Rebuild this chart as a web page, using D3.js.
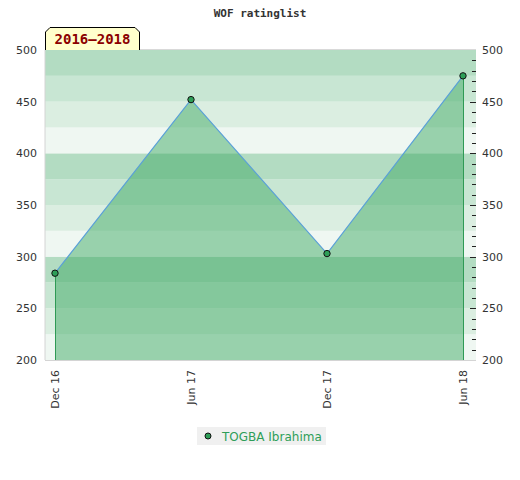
<!DOCTYPE html>
<html>
<head>
<meta charset="utf-8">
<script src="https://cdn.jsdelivr.net/npm/d3@7"></script>
<style>
body{margin:0;background:#fff}
</style>
</head>
<body>
<svg id="chart"></svg>
<script>
// chart data
var months = ["Dec 16", "Jun 17", "Dec 17", "Jun 18"]
var ratings = [284, 452, 303, 475]
var playerName = "TOGBA Ibrahima"
var periodLabel = "2016\u20132018"
var yTicks = [200, 250, 300, 350, 400, 450, 500]

var screen = {width:520, height:480}
var plot = {left:45, right:476, top:50, bottom:360}

var svg = d3.select("#chart")
    .attr("width", screen.width)
    .attr("height", screen.height)
    .style("font-family", "'DejaVu Sans', sans-serif")

var xScale = d3.scalePoint()
    .domain(months)
    .range([plot.left + 10, plot.right - 13])

var yScale = d3.scaleLinear()
    .domain([200, 500])
    .range([plot.bottom, plot.top])

// striped background, 25 point bands, lightest at bottom of each hundred
var bandColors = ["#eff7f2", "#dbeee1", "#c8e6d3", "#b3dcc2"]
var bands = d3.range(200, 500, 25)
svg.append("g")
    .selectAll("rect")
    .data(bands)
    .enter()
    .append("rect")
    .attr("x", plot.left)
    .attr("width", plot.right - plot.left)
    .attr("y", function(d){return yScale(d + 25)})
    .attr("height", function(d){return yScale(d) - yScale(d + 25)})
    .attr("fill", function(d){return bandColors[((d - 200) / 25) % 4]})

// plot frame
svg.append("line")
    .attr("x1", plot.left).attr("x2", plot.left)
    .attr("y1", plot.top).attr("y2", plot.bottom)
    .attr("stroke", "#d4d4d4")
svg.append("line")
    .attr("x1", plot.left).attr("x2", plot.right)
    .attr("y1", plot.bottom + 0.5).attr("y2", plot.bottom + 0.5)
    .attr("stroke", "#d4d4d4")
svg.append("line")
    .attr("x1", plot.left).attr("x2", plot.right)
    .attr("y1", plot.top - 0.5).attr("y2", plot.top - 0.5)
    .attr("stroke", "#d9d9d9")

var points = months.map(function(m, i){ return {x:m, y:ratings[i]} })

// area under the line
var area = d3.area()
    .x(function(d){return xScale(d.x)})
    .y0(plot.bottom)
    .y1(function(d){return yScale(d.y)})
svg.append("path")
    .datum(points)
    .attr("d", area)
    .attr("fill", "rgb(55,166,93)")
    .attr("fill-opacity", 0.47)

// drop lines at the ends
svg.selectAll(".drop")
    .data([points[0], points[points.length - 1]])
    .enter()
    .append("line")
    .attr("class", "drop")
    .attr("x1", function(d){return Math.round(xScale(d.x)) + 0.5})
    .attr("x2", function(d){return Math.round(xScale(d.x)) + 0.5})
    .attr("y1", function(d){return yScale(d.y)})
    .attr("y2", plot.bottom)
    .attr("stroke", "#2f9a55")

var line = d3.line()
    .x(function(d){return xScale(d.x)})
    .y(function(d){return yScale(d.y)})
svg.append("path")
    .datum(points)
    .attr("d", line)
    .attr("fill", "none")
    .attr("stroke", "#5aa0d8")
    .attr("stroke-width", 1.2)

svg.selectAll(".pt")
    .data(points)
    .enter()
    .append("circle")
    .attr("class", "pt")
    .attr("cx", function(d){return xScale(d.x)})
    .attr("cy", function(d){return yScale(d.y)})
    .attr("r", 3.2)
    .attr("fill", "#2e9e58")
    .attr("stroke", "#111")
    .attr("stroke-width", 1)

// left axis labels
svg.append("g")
    .selectAll("text")
    .data(yTicks)
    .enter()
    .append("text")
    .attr("x", plot.left - 8)
    .attr("y", function(d){return yScale(d) + 4})
    .attr("text-anchor", "end")
    .attr("font-size", 11)
    .attr("fill", "#333")
    .text(function(d){return d})

// right axis with minor ticks
var rightAxis = d3.axisRight(yScale)
    .tickValues(yTicks)
    .tickSize(0)
    .tickPadding(6)
svg.append("g")
    .attr("transform", "translate(" + plot.right + ",0)")
    .call(rightAxis)
    .call(function(g){
        g.select(".domain").remove()
        g.selectAll("text").attr("font-size", 11).attr("fill", "#333")
            .attr("font-family", "'DejaVu Sans', sans-serif")
    })
svg.append("g")
    .selectAll("line")
    .data(d3.range(210, 500, 10))
    .enter()
    .append("line")
    .attr("x1", function(d){return d % 50 == 0 ? plot.right - 6 : plot.right - 4})
    .attr("x2", plot.right)
    .attr("y1", function(d){return Math.round(yScale(d)) + 0.5})
    .attr("y2", function(d){return Math.round(yScale(d)) + 0.5})
    .attr("stroke", "#222")

// x labels, rotated
svg.append("g")
    .selectAll("text")
    .data(months)
    .enter()
    .append("text")
    .attr("transform", function(d){return "translate(" + (xScale(d) + 4) + "," + (plot.bottom + 10) + ") rotate(-90)"})
    .attr("text-anchor", "end")
    .attr("font-size", 11)
    .attr("fill", "#333")
    .text(function(d){return d})

// title
svg.append("text")
    .attr("x", 260)
    .attr("y", 17)
    .attr("text-anchor", "middle")
    .attr("font-family", "'DejaVu Sans Mono', monospace")
    .attr("font-weight", "bold")
    .attr("font-size", 11)
    .attr("fill", "#333")
    .text("WOF ratinglist")

// period tag
var tag = {x:45, y:27, w:95, h:23, c:5}
svg.append("path")
    .attr("d", "M" + (tag.x + 0.5) + "," + (tag.y + tag.h) +
        "V" + (tag.y + tag.c) + "L" + (tag.x + tag.c) + "," + (tag.y + 0.5) +
        "H" + (tag.x + tag.w - tag.c) + "L" + (tag.x + tag.w - 0.5) + "," + (tag.y + tag.c) +
        "V" + (tag.y + tag.h))
    .attr("fill", "#ffffcc")
    .attr("stroke", "#000")
svg.append("text")
    .attr("x", tag.x + tag.w / 2)
    .attr("y", tag.y + 17)
    .attr("text-anchor", "middle")
    .attr("font-family", "'DejaVu Sans Mono', monospace")
    .attr("font-weight", "bold")
    .attr("font-size", 14)
    .attr("fill", "#8b0000")
    .text(periodLabel)

// legend
var legend = svg.append("g").attr("transform", "translate(197,427)")
legend.append("rect")
    .attr("width", 129).attr("height", 18)
    .attr("fill", "#f0f0f0")
legend.append("circle")
    .attr("cx", 11).attr("cy", 9).attr("r", 3)
    .attr("fill", "#2e9e58").attr("stroke", "#111")
legend.append("text")
    .attr("x", 25).attr("y", 13.5)
    .attr("font-size", 12)
    .attr("fill", "#2e9e58")
    .text(playerName)
</script>
</body>
</html>
